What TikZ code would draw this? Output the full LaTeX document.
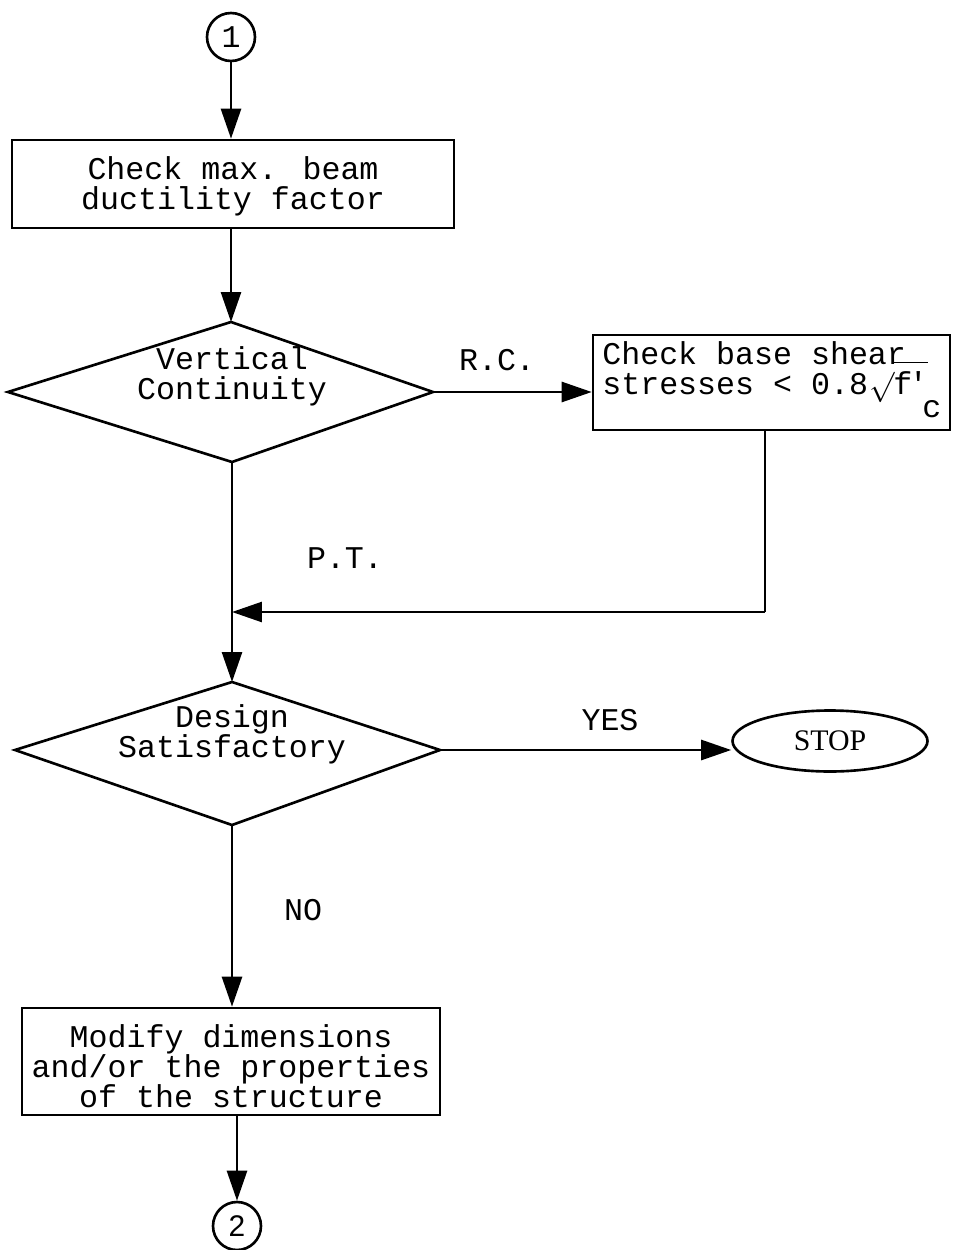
\documentclass[tikz,border=0pt]{standalone}
\usepackage{fontspec}
\setmainfont{Liberation Mono}
\newfontfamily\stopfont{Liberation Serif}
\newfontfamily\numfont{Liberation Sans}
\usetikzlibrary{shapes.geometric,arrows.meta}
\begin{document}
\begin{tikzpicture}[x=0.02cm,y=-0.02cm,
  line width=1.5pt,
  every node/.style={font=\fontsize{18}{17}\selectfont},
  arr/.style={-{Triangle[length=0.6cm,width=0.4cm]}},
  procbox/.style={draw,rectangle,inner sep=0pt},
  conn/.style={draw,circle,inner sep=0pt,minimum size=0.96cm},
  txt/.style={align=center,inner sep=0pt},
  lbl/.style={inner sep=0pt}]
\useasboundingbox (0,0) rectangle (953,1250);
% connectors (circles)
\node[conn,font=\fontsize{18}{18}\selectfont] (c1) at (231,37) {1};
\node[conn,font=\numfont\fontsize{17}{17}\selectfont] (c2) at (237,1226) {2};
% box 1
\node[procbox,minimum width=8.84cm,minimum height=1.76cm] (b1) at (233,184) {};
\node[txt] (t1) at (233,186) {Check max. beam\\ductility factor};
% decision 1
\coordinate (d1t) at (231,322);
\coordinate (d1l) at (8,392);
\coordinate (d1r) at (433,392);
\coordinate (d1b) at (232,462);
\draw (d1t) -- (d1r) -- (d1b) -- (d1l) -- cycle;
\node[txt] (t2) at (232,376) {Vertical\\Continuity};
% box 2
\node[procbox,minimum width=7.14cm,minimum height=1.9cm] (b2) at (771.5,382.5) {};
\node[txt,anchor=west,align=left] (t3) at (601,372) {Check base shear\\stresses < 0.8\kern1pt$\surd$\kern-1pt\smash{$\overline{\mbox{\rule{0pt}{17pt}f\kern-2pt\textquotesingle}}$}\kern-3pt\smash{\raisebox{-13pt}{c}}};
% decision 2
\coordinate (d2t) at (232,682);
\coordinate (d2l) at (15,750);
\coordinate (d2r) at (440,750);
\coordinate (d2b) at (232,825);
\draw (d2t) -- (d2r) -- (d2b) -- (d2l) -- cycle;
\node[txt] (t4) at (232,734) {Design\\Satisfactory};
% stop
\node[draw,ellipse,minimum width=3.9cm,minimum height=1.22cm,inner sep=0pt,font=\stopfont\fontsize{17}{17}\selectfont] (stop) at (830,741) {STOP};
% box 3
\node[procbox,minimum width=8.36cm,minimum height=2.14cm] (b3) at (231,1061.5) {};
\node[txt] (t5) at (231,1066) {Modify dimensions\\and/or the properties\\of the structure};
% labels
\node[lbl] (rc) at (497,360) {R.C.};
\node[lbl] (pt) at (345,558) {P.T.};
\node[lbl] (yes) at (610,720) {YES};
\node[lbl] (no) at (303,910) {NO};
% arrows
\coordinate (j) at (232,612);
\coordinate (k) at (765,612);
\draw[arr] (c1.south) -- (c1.south |- b1.north);
\draw[arr] (d1t |- b1.south) -- (d1t);
\draw[arr] (d1r) -- (d1r -| b2.west);
\draw (b2.south -| k) -- (k);
\draw[arr] (k) -- (j);
\draw[arr] (d1b) -- (d2t);
\draw[arr] (d2r) -- (d2r -| stop.west);
\draw[arr] (d2b) -- (d2b |- b3.north);
\draw[arr] (c2.north |- b3.south) -- (c2.north);
\end{tikzpicture}
\end{document}
